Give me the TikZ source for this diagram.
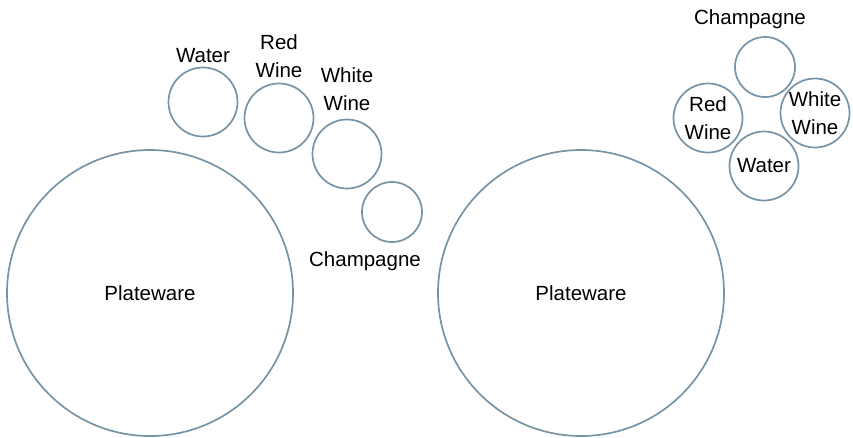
\documentclass[tikz,border=0pt]{standalone}
\usepackage{fontspec}
\setmainfont{Liberation Sans}
\definecolor{rimgray}{RGB}{118,148,165}
\begin{document}
\begin{tikzpicture}[x=1pt, y=-1pt,
    rim/.style={draw=rimgray, line width=1.7pt, circle, inner sep=0pt, align=center,
        font=\fontsize{20.5}{28}\selectfont},
    plate/.style={rim, line width=1.7pt, minimum size=286pt},
    glass/.style={rim, minimum size=69pt},
    flute/.style={rim, minimum size=60pt},
    tag/.style={align=center, inner sep=0pt, text depth=0pt, font=\fontsize{20.5}{28}\selectfont}]
    \useasboundingbox (0,0) rectangle (853,437);
    % Left setting: glasses in a row above the plate
    \node[plate] (plateA) at (150,293) {Plateware};
    \node[glass] (waterA) at (203,102) {};
    \node[glass] (redA) at (279,118) {};
    \node[glass] (whiteA) at (347,154) {};
    \node[flute] (champA) at (392,212) {};
    \node[tag] (waterAtag) at (203,55) {Water};
    \node[tag] (redAtag) at (279,56) {Red\\Wine};
    \node[tag] (whiteAtag) at (347,89) {White\\Wine};
    \node[tag] (champAtag) at (365,259) {Champagne};
    % Right setting: glasses in a cluster
    \node[plate] (plateB) at (581,293) {Plateware};
    \node[flute] (champB) at (765,67) {};
    \node[glass] (redB) at (708,118) {Red\\Wine};
    \node[glass] (whiteB) at (815,113) {White\\Wine};
    \node[glass] (waterB) at (764,166) {Water};
    \node[tag] (champBtag) at (750,17) {Champagne};
\end{tikzpicture}
\end{document}
